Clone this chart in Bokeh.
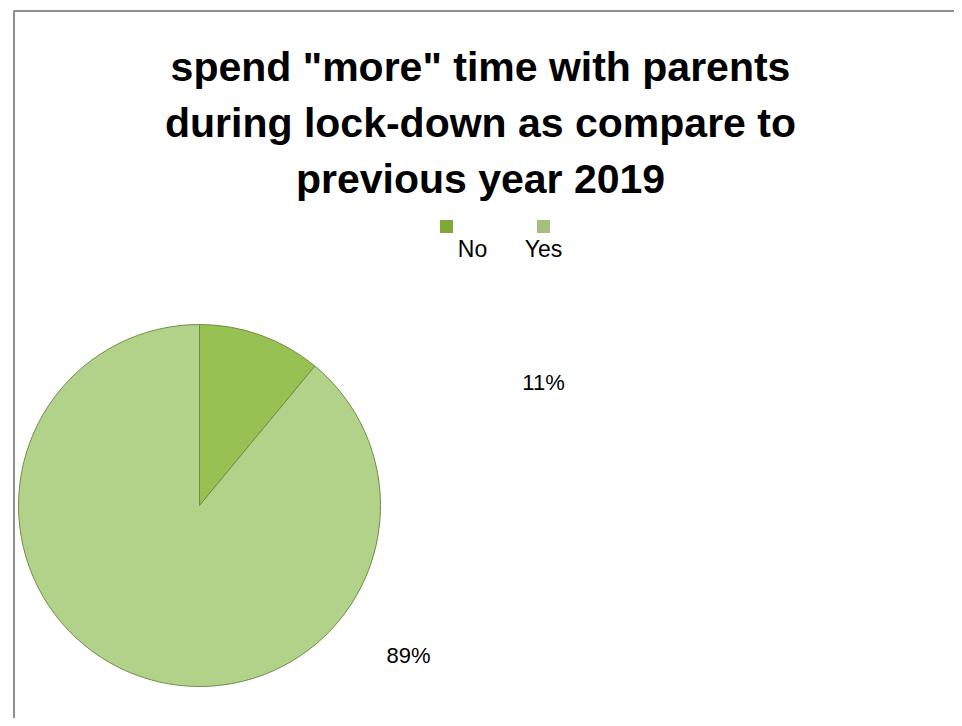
from math import pi
from bokeh.plotting import figure
from bokeh.models import Range1d, ColumnDataSource
from bokeh.core.properties import value
from bokeh.embed import file_html
from bokeh.resources import INLINE

# ---- data ----
categories = ["No", "Yes"]
percentages = [11, 89]
slice_colors = ["#97C152", "#B1D288"]
legend_colors = ["#7FA836", "#A6BF7E"]
title_lines = ['spend "more" time with parents',
               'during lock-down as compare to',
               'previous year 2019']

W, H = 954, 718
p = figure(width=W, height=H, output_backend="svg", toolbar_location=None,
           x_range=Range1d(0, W), y_range=Range1d(726 - H, 726),
           min_border=0, outline_line_color=None)
p.axis.visible = False
p.grid.visible = False
p.background_fill_color = "white"

def sy(y):  # screen y -> data y
    return 726 - y

FONT = "Liberation Sans"

# border (top and left visible)
p.line([13.5, 13.5, 970], [sy(740), sy(10.5), sy(10.5)], line_color="#8f8f8f", line_width=2)

# title
for i, t in enumerate(title_lines):
    p.text(x=[480], y=[sy(66 + 56 * i)], text=[t], text_align="center",
           text_baseline="middle", text_font=value(FONT),
           text_font_size="41px", text_font_style="bold", text_color="black")

# pie
cx, cy, r = 199, sy(505), 181
total = sum(percentages)
starts, ends = [], []
acc = 0.0
for v in percentages:
    a0 = pi / 2 - 2 * pi * acc / total
    acc += v
    a1 = pi / 2 - 2 * pi * acc / total
    starts.append(a1)
    ends.append(a0)
src = ColumnDataSource(dict(start=starts, end=ends, color=slice_colors))
p.wedge(x=cx, y=cy, radius=r, start_angle="start", end_angle="end",
        fill_color="color", line_color="#6f8f45", line_width=1, source=src)

# percentage labels
lab_x = [543, 408]
lab_y = [sy(382), sy(655)]
p.text(x=lab_x, y=lab_y, text=[f"{v}%" for v in percentages], text_align="center",
       text_baseline="middle", text_font=value(FONT), text_font_size="22px",
       text_color="black")

# legend
leg_x = [446, 543]
p.scatter(x=leg_x, y=[sy(226)] * 2, marker="square", size=13,
          fill_color=legend_colors, line_color=None)
p.text(x=[472, 543], y=[sy(248)] * 2, text=categories, text_align="center",
       text_baseline="middle", text_font=value(FONT), text_font_size="23px",
       text_color="black")

open("out.html", "w").write(file_html(p, INLINE))
